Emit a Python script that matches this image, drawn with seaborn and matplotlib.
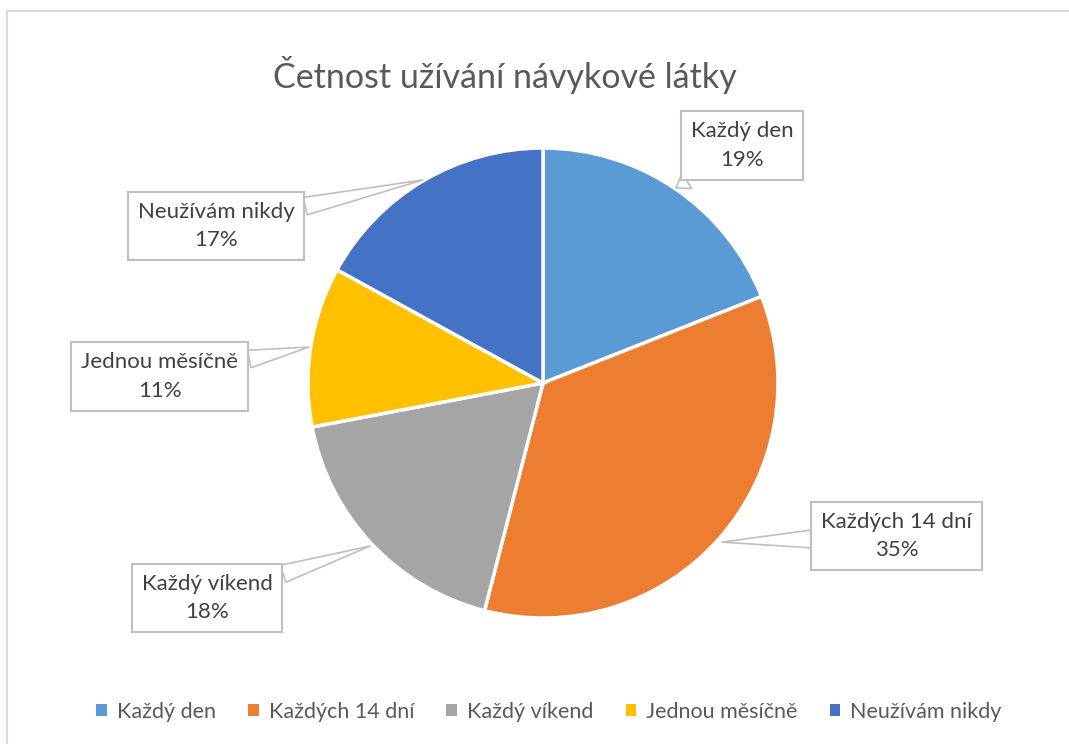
import seaborn as sns
import matplotlib.pyplot as plt
from matplotlib.patches import Patch
from matplotlib.lines import Line2D

# data
categories = ['Každý den', 'Každých 14 dní', 'Každý víkend', 'Jednou měsíčně', 'Neužívám nikdy']
percent = [19, 35, 18, 11, 17]
colors = ['#5B9BD5', '#ED7D31', '#A5A5A5', '#FFC000', '#4472C4']

# callout box centres and pointer tips (pie units, radius 1)
box_pos = [(0.847, 1.009), (1.506, -0.651), (-1.430, -0.915), (-1.630, 0.026), (-1.391, 0.668)]
tip_pos = [(0.566, 0.830), (0.762, -0.677), (-0.736, -0.694), (-0.996, 0.153), (-0.511, 0.864)]

sns.set_theme(style='white')
plt.rcParams['font.family'] = ['Lato', 'DejaVu Sans']

W, H = 1069, 744
fig = plt.figure(figsize=(W / 100, H / 100), dpi=100)

# chart area border (light gray, top and left visible)
fig.add_artist(Line2D([7 / W, 7 / W], [0, 1 - 10.5 / H], color='#D9D9D9', lw=1.5, transform=fig.transFigure))
fig.add_artist(Line2D([7 / W, 1], [1 - 10.5 / H, 1 - 10.5 / H], color='#D9D9D9', lw=1.5, transform=fig.transFigure))

cx, cy, r = 543, 383, 235
ax = fig.add_axes([(cx - r) / W, (H - cy - r) / H, 2 * r / W, 2 * r / H])
ax.pie(percent, colors=colors, startangle=90, counterclock=False, radius=1,
       wedgeprops=dict(edgecolor='white', linewidth=2.5))
ax.set_xlim(-1, 1)
ax.set_ylim(-1, 1)
ax.set_aspect('equal')
ax.axis('off')

for cat, p, bp, tp in zip(categories, percent, box_pos, tip_pos):
    ax.annotate(f'{cat}\n{p}%', xy=tp, xytext=bp, ha='center', va='center',
                fontsize=16, color='#404040', linespacing=1.55,
                bbox=dict(boxstyle='square,pad=0.45', fc='white', ec='#BFBFBF', lw=1.5),
                arrowprops=dict(arrowstyle='wedge,tail_width=0.8,shrink_factor=0.5',
                                fc='white', ec='#BFBFBF', lw=1.2, shrinkA=0, shrinkB=0),
                annotation_clip=False)

fig.text(505 / W, 1 - 75 / H, 'Četnost užívání návykové látky', ha='center', va='center',
         fontsize=24.5, color='#595959')

handles = [Patch(facecolor=c, edgecolor='none') for c in colors]
fig.legend(handles, categories, loc='center', bbox_to_anchor=(549 / W, 1 - 712 / H), ncol=5,
           frameon=False, fontsize=15.5, labelcolor='#595959', handlelength=0.5, handleheight=0.5,
           handletextpad=0.45, columnspacing=1.5)

fig.savefig('out.png', dpi=100, facecolor='white')
